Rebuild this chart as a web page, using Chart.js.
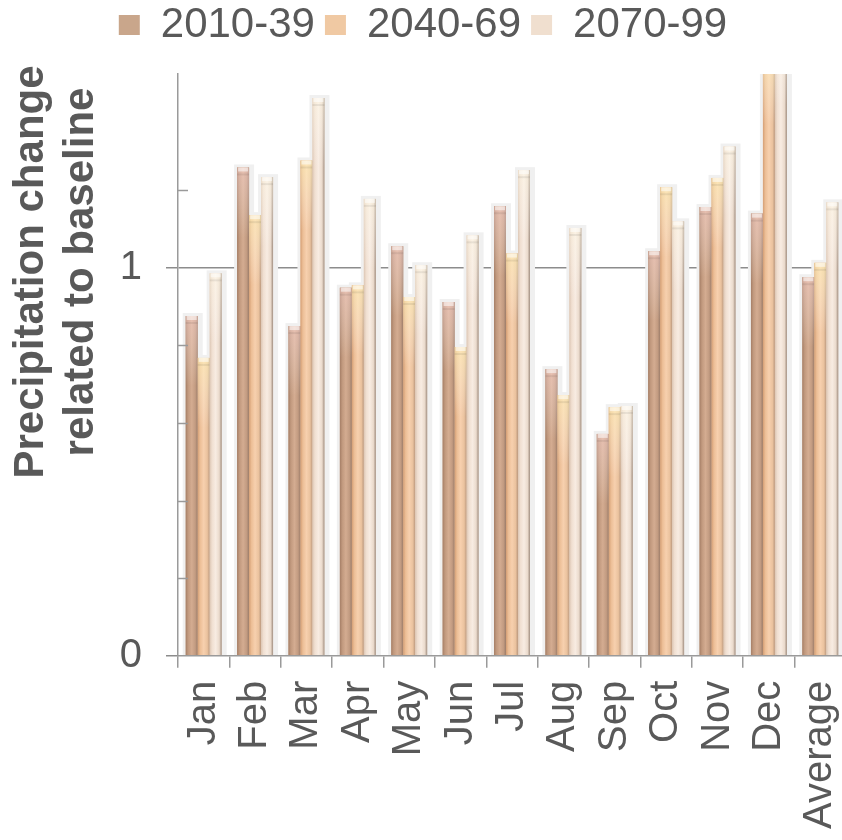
<!DOCTYPE html>
<html>
<head>
<meta charset="utf-8">
<script src="https://cdn.jsdelivr.net/npm/chart.js@4.4.0/dist/chart.umd.min.js"></script>
<style>
html, body { margin: 0; padding: 0; background: #fff; overflow: hidden; }
#wrap { width: 846px; height: 840px; }
</style>
</head>
<body>
<div id="wrap"><canvas id="barChart"></canvas></div>
<script>
var months = ['Jan', 'Feb', 'Mar', 'Apr', 'May', 'Jun', 'Jul', 'Aug', 'Sep', 'Oct', 'Nov', 'Dec', 'Average'];
var seriesNames = ['2010-39', '2040-69', '2070-99'];
var p2010 = [0.876, 1.259, 0.850, 0.949, 1.056, 0.912, 1.159, 0.739, 0.572, 1.043, 1.157, 1.140, 0.976];
var p2040 = [0.768, 1.136, 1.277, 0.955, 0.925, 0.796, 1.037, 0.672, 0.641, 1.208, 1.232, 1.550, 1.013];
var p2070 = [0.986, 1.234, 1.438, 1.178, 1.007, 1.084, 1.252, 1.103, 0.644, 1.120, 1.313, 1.600, 1.169];
var yLabels = { '0': '0', '1': '1' };
var yTitle = ['Precipitation change', 'related to baseline'];

var FONT = "'Liberation Sans', Arial, sans-serif";
var TEXT = '#595959';
var AXIS = '#9a9a9a';

// flat colours (legend) and cylinder gradient stops per series
var flat = ['#c9a68b', '#f0c9a3', '#f0dfcf'];
var stops = [
    ['rgb(165,126,102)', 'rgb(193,153,126)', 'rgb(212,172,145)', 'rgb(194,155,129)', 'rgb(155,124,105)'],
    ['rgb(212,158,116)', 'rgb(236,190,150)', 'rgb(247,208,174)', 'rgb(234,194,158)', 'rgb(186,152,126)'],
    ['rgb(220,198,180)', 'rgb(240,223,209)', 'rgb(248,236,226)', 'rgb(234,218,204)', 'rgb(160,141,127)']
];
var tops = ['rgba(255,215,215,0.45)', 'rgba(255,245,185,0.55)', 'rgba(255,250,230,0.45)'];

function near(v, t) { return Math.abs(v - t) < 1e-6; }
function isMajor(v) { return near(v, 0) || near(v, 1); }

var barLook = {
    id: 'barLook',
    beforeDatasetsDraw: function (chart) {
        var c = chart.ctx, a = chart.chartArea;
        c.save();
        c.beginPath(); c.rect(a.left, a.top, a.right - a.left, a.bottom - a.top); c.clip();
        c.fillStyle = '#f0f0f0';
        chart.data.datasets.forEach(function (ds, i) {
            chart.getDatasetMeta(i).data.forEach(function (el) {
                var p = el.getProps(['x', 'y', 'base', 'width'], true);
                c.fillRect(p.x - p.width / 2 - 3, p.y - 3, p.width + 8, p.base - p.y + 3);
            });
        });
        c.restore();
    },
    afterDatasetsDraw: function (chart) {
        var c = chart.ctx, a = chart.chartArea;
        c.save();
        c.beginPath(); c.rect(a.left, a.top, a.right - a.left, a.bottom - a.top); c.clip();
        chart.data.datasets.forEach(function (ds, i) {
            var s = stops[i];
            chart.getDatasetMeta(i).data.forEach(function (el) {
                var p = el.getProps(['x', 'y', 'base', 'width'], true);
                var l = p.x - p.width / 2, w = p.width, h = p.base - p.y;
                var g = c.createLinearGradient(l, 0, l + w, 0);
                g.addColorStop(0, s[0]); g.addColorStop(0.2, s[1]); g.addColorStop(0.5, s[2]);
                g.addColorStop(0.8, s[3]); g.addColorStop(1, s[4]);
                c.fillStyle = g;
                c.fillRect(l, p.y, w, h);
                var v = c.createLinearGradient(0, p.y, 0, p.y + 70);
                v.addColorStop(0, tops[i]); v.addColorStop(1, 'rgba(255,255,255,0)');
                c.fillStyle = v;
                c.fillRect(l, p.y, w, Math.min(70, h));
                c.fillStyle = 'rgba(255,255,255,0.55)';
                c.fillRect(l + 1, p.y, w - 2, 4);
                c.fillStyle = 'rgba(0,0,0,0.07)';
                c.fillRect(l, p.y + 6, w, 2);
            });
        });
        c.restore();
    },
    afterDraw: function (chart) {
        var c = chart.ctx, a = chart.chartArea, ys = chart.scales.y;
        c.save();
        // minor ticks point into the plot
        c.strokeStyle = AXIS; c.lineWidth = 1.5;
        ys.ticks.forEach(function (t) {
            if (isMajor(t.value) || t.value > 1.45) return;
            var py = Math.round(ys.getPixelForValue(t.value)) + 0.5;
            c.beginPath(); c.moveTo(a.left, py); c.lineTo(a.left + 10, py); c.stroke();
        });
        // axis title
        c.fillStyle = TEXT;
        c.font = 'bold 42px ' + FONT;
        c.textAlign = 'center'; c.textBaseline = 'middle';
        c.translate(0, 272);
        c.rotate(-Math.PI / 2);
        c.fillText(yTitle[0], 0, 31);
        c.fillText(yTitle[1], 0, 81);
        c.restore();
    }
};

var ctx = document.getElementById('barChart').getContext('2d');
var myChart = new Chart(ctx, {
    type: 'bar',
    data: {
        labels: months,
        datasets: [
            { label: seriesNames[0], data: p2010, backgroundColor: flat[0] },
            { label: seriesNames[1], data: p2040, backgroundColor: flat[1] },
            { label: seriesNames[2], data: p2070, backgroundColor: flat[2] }
        ]
    },
    options: {
        responsive: true,
        maintainAspectRatio: false,
        animation: false,
        layout: { padding: { left: 0, bottom: -2, top: -6, right: 0 } },
        datasets: { bar: { categoryPercentage: 0.7, barPercentage: 1.0, borderWidth: 0 } },
        plugins: {
            tooltip: { enabled: false },
            legend: {
                position: 'top',
                labels: {
                    color: TEXT,
                    font: { family: FONT, size: 42 },
                    boxWidth: 21,
                    boxHeight: 20,
                    padding: 10
                }
            }
        },
        scales: {
            x: {
                border: { color: AXIS, width: 1.5 },
                grid: { drawOnChartArea: false, offset: true, tickLength: 12, tickColor: AXIS, lineWidth: 1.5 },
                ticks: { autoSkip: false, minRotation: 90, maxRotation: 90, padding: 13, color: TEXT, font: { family: FONT, size: 40 } },
                afterFit: function (s) { s.paddingLeft = 0; s.paddingRight = 0; }
            },
            gap: {
                type: 'category',
                position: 'top',
                display: true,
                grid: { display: false, drawTicks: false },
                border: { display: false },
                ticks: { display: false },
                afterFit: function (s) { s.height = 18; }
            },
            y: {
                min: 0,
                max: 1.5,
                afterFit: function (s) { s.width = 178; },
                border: { color: AXIS, width: 1.5 },
                grid: {
                    lineWidth: 1.5,
                    tickLength: 12,
                    color: function (c) { return near(c.tick.value, 1) ? '#8c8c8c' : 'rgba(0,0,0,0)'; },
                    tickColor: function (c) { return isMajor(c.tick.value) ? '#8c8c8c' : 'rgba(0,0,0,0)'; }
                },
                ticks: {
                    stepSize: 0.2,
                    padding: 24,
                    color: TEXT,
                    font: { family: FONT, size: 40 },
                    callback: function (v) {
                        var k = String(Math.round(v * 10) / 10);
                        return yLabels[k] !== undefined ? yLabels[k] : '';
                    }
                }
            }
        }
    },
    plugins: [barLook]
});
</script>
</body>
</html>
